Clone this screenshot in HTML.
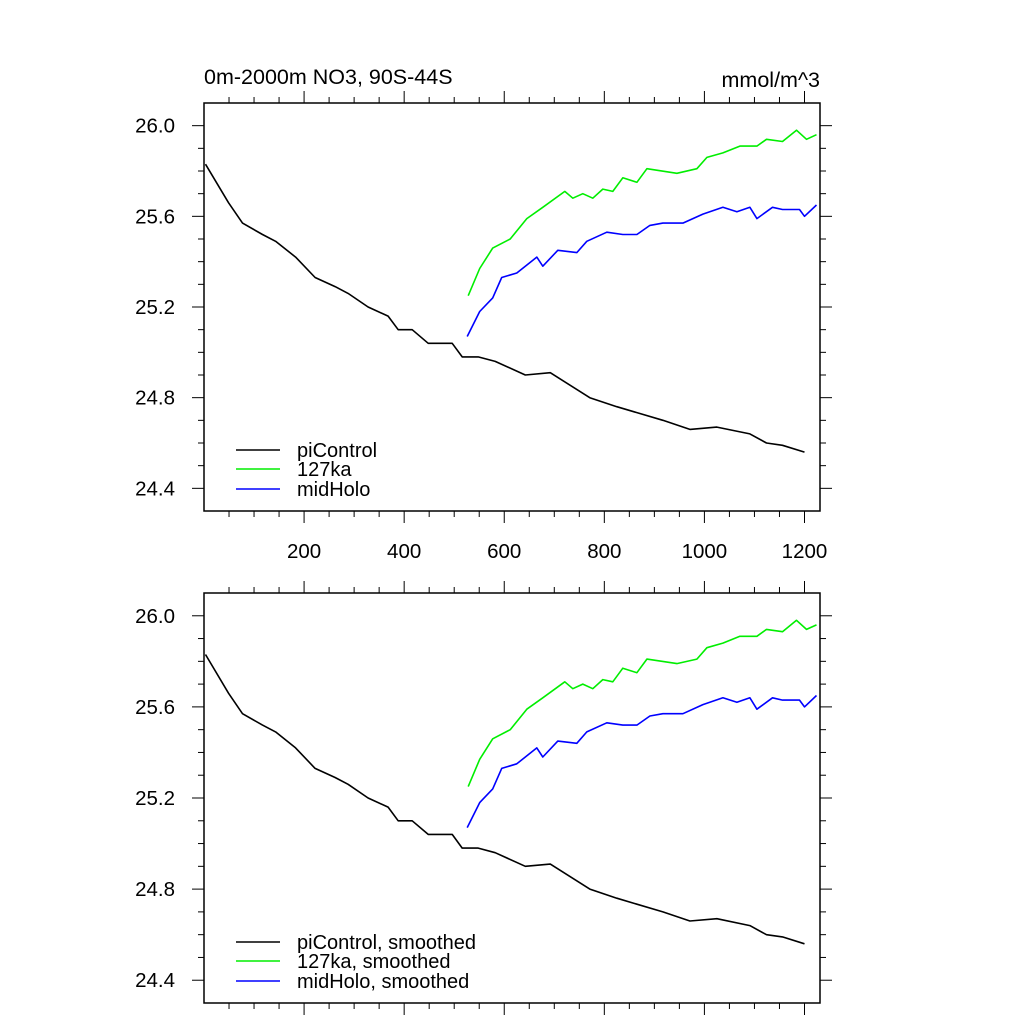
<!DOCTYPE html>
<html><head><meta charset="utf-8"><style>
html,body{margin:0;padding:0;background:#fff;}
svg{display:block;font-family:"Liberation Sans",sans-serif;}
</style></head><body>
<svg id="chart" width="1024" height="1024" viewBox="0 0 1024 1024" xmlns="http://www.w3.org/2000/svg">
<text x="204" y="84" font-size="21.5">0m-2000m NO3, 90S-44S</text>
<text x="820" y="87" font-size="21.5" text-anchor="end">mmol/m^3</text>
<g id="panels"></g>
</svg>
<script>
const piYears = [3,49,77,117,143,183,222,262,288,328,368,388,416,448,496,516,548,582,642,692,771,825,917,971,1025,1091,1124,1156,1200];
const piValues = [25.83,25.66,25.57,25.52,25.49,25.42,25.33,25.29,25.26,25.20,25.16,25.10,25.10,25.04,25.04,24.98,24.98,24.96,24.90,24.91,24.80,24.76,24.70,24.66,24.67,24.64,24.60,24.59,24.56];
const ligYears = [528,551,577,612,645,677,721,737,757,777,797,817,837,865,885,945,985,1005,1037,1071,1105,1124,1156,1184,1204,1224];
const ligValues = [25.25,25.37,25.46,25.50,25.59,25.64,25.71,25.68,25.70,25.68,25.72,25.71,25.77,25.75,25.81,25.79,25.81,25.86,25.88,25.91,25.91,25.94,25.93,25.98,25.94,25.96];
const holoYears = [526,551,577,595,625,665,677,707,745,765,805,837,865,891,917,957,997,1037,1065,1091,1105,1136,1156,1190,1200,1224];
const holoValues = [25.07,25.18,25.24,25.33,25.35,25.42,25.38,25.45,25.44,25.49,25.53,25.52,25.52,25.56,25.57,25.57,25.61,25.64,25.62,25.64,25.59,25.64,25.63,25.63,25.60,25.65];
const xTickLabels = [200,400,600,800,1000,1200];
const yTickLabels = ["24.4","24.8","25.2","25.6","26.0"];

const NS="http://www.w3.org/2000/svg";
const X0=204,X1=820,XMIN=0,XMAX=1231,YMIN=24.3,YMAX=26.1;
const root=document.getElementById('panels');
function mk(tag,attrs,parent){const e=document.createElementNS(NS,tag);for(const k in attrs)e.setAttribute(k,attrs[k]);(parent||root).appendChild(e);return e;}
function xs(t){return X0+(t-XMIN)/(XMAX-XMIN)*(X1-X0);}

function panel(top,bottom,showXLabels,suffix,name){
  const g=mk('g',{});
  
  
  const ys=v=>bottom-(v-YMIN)/(YMAX-YMIN)*(bottom-top);
  for(let t=0;t<=1200;t+=50){
    const major=t%200===0; const L=major?12:6; const x=xs(t);
    if(t>0){
      mk('line',{x1:x,y1:bottom,x2:x,y2:bottom+L,stroke:'#000','stroke-width':1},g);
      mk('line',{x1:x,y1:top,x2:x,y2:top-L,stroke:'#000','stroke-width':1},g);
    }
  }
  for(let i=0;i<=18;i++){
    const v=YMIN+i*0.1; const r=Math.round(v*10)/10;
    const major=Math.abs(((r-24.4)/0.4)-Math.round((r-24.4)/0.4))<1e-6;
    const L=major?12:6; const y=ys(r);
    if(i===0||i===18) continue;
    mk('line',{x1:X0,y1:y,x2:X0-L,y2:y,stroke:'#000','stroke-width':1},g);
    mk('line',{x1:X1,y1:y,x2:X1+L,y2:y,stroke:'#000','stroke-width':1},g);
  }
  yTickLabels.forEach(s=>{
    const t=mk('text',{x:175,y:ys(parseFloat(s))+7,'font-size':20.5,'text-anchor':'end'},g);
    
    
    t.textContent=s;
  });
  if(showXLabels){
    xTickLabels.forEach(v=>{
      const t=mk('text',{x:xs(v),y:bottom+47,'font-size':20.5,'text-anchor':'middle'},g);
      
      
      t.textContent=v;
    });
  }
  const series=[[piYears,piValues,'#000','piControl'],[ligYears,ligValues,'#00ee00','127ka'],[holoYears,holoValues,'#0000ff','midHolo']];
  series.forEach(([xsArr,vs,c,label])=>{
    const d=xsArr.map((t,i)=>(i?'L':'M')+xs(t).toFixed(1)+','+ys(vs[i]).toFixed(1)).join('');
    const p=mk('path',{d:d,fill:'none',stroke:c,'stroke-width':1.6,'stroke-linejoin':'round'},g);
    
    
  });
  const ly=[bottom-61,bottom-42,bottom-22];
  series.forEach(([a,b,c,label],i)=>{
    const lg=mk('g',{},g);
    
    
    mk('line',{x1:236,y1:ly[i],x2:280,y2:ly[i],stroke:c,'stroke-width':1.6},lg);
    const t=mk('text',{x:297,y:ly[i]+7,'font-size':20},lg);
    t.textContent=label+suffix;
  });
  const f=mk('rect',{x:X0,y:top,width:X1-X0,height:bottom-top,fill:'none',stroke:'#000','stroke-width':1.5},g);
  
  
}
panel(103,511,true,'','top-panel');
panel(593,1003,false,', smoothed','bottom-panel');
</script>
</body></html>
